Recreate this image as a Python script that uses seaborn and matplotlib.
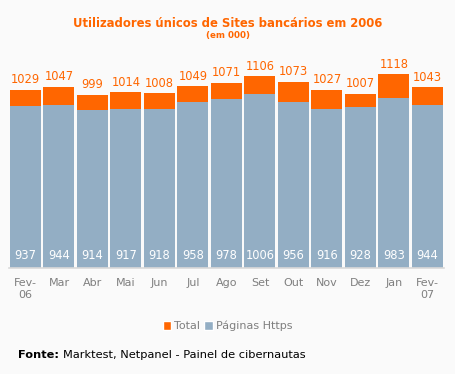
import numpy as np
import pandas as pd
import matplotlib
matplotlib.use("Agg")
import matplotlib.pyplot as plt
import seaborn as sns
from matplotlib.patches import Patch

# Values (em 000)
months = ["Fev-\n06", "Mar", "Abr", "Mai", "Jun", "Jul", "Ago", "Set", "Out", "Nov", "Dez", "Jan", "Fev-\n07"]
total = [1029, 1047, 999, 1014, 1008, 1049, 1071, 1106, 1073, 1027, 1007, 1118, 1043]
https = [937, 944, 914, 917, 918, 958, 978, 1006, 956, 916, 928, 983, 944]

ORANGE = "#FF6600"
BLUE = "#93AEC4"
GREY = "#7F7F7F"
BG = "#FAFAFA"

sns.set_style("white")
plt.rcParams["font.family"] = ["DejaVu Sans"]

df = pd.DataFrame({"mes": months, "total": total, "https": https})

fig = plt.figure(figsize=(4.55, 3.74), dpi=100, facecolor=BG)
ax = fig.add_axes([0.0192, 0.2834, 0.9571, 0.5695], facecolor=BG)

# Total drawn full height, Https overlaid from zero
sns.barplot(data=df, x="mes", y="total", color=ORANGE, saturation=1,
            width=0.925, ax=ax, linewidth=0)
sns.barplot(data=df, x="mes", y="https", color=BLUE, saturation=1,
            width=0.925, ax=ax, linewidth=0)

ax.set_ylim(0, 1230)
ax.set_xlim(-0.5, len(months) - 0.5)

for i, (t, h) in enumerate(zip(total, https)):
    ax.text(i, t + 22, str(t), ha="center", va="bottom", color=ORANGE, fontsize=8.3)
    ax.text(i, 35, str(h), ha="center", va="bottom", color="white", fontsize=8.3)

for s in ["top", "right", "left"]:
    ax.spines[s].set_visible(False)
ax.spines["bottom"].set_color("#D9D9D9")
ax.spines["bottom"].set_linewidth(1.2)
ax.set_yticks([])
ax.set_xlabel("")
ax.set_ylabel("")
ax.set_xticks(np.arange(-0.5, len(months)), minor=True)
ax.tick_params(axis="x", which="major", length=0, pad=7, labelsize=8, labelcolor=GREY)
ax.tick_params(axis="x", which="minor", length=4, width=1, color="#D9D9D9")
for lbl in ax.get_xticklabels():
    lbl.set_linespacing(1.25)

fig.text(0.5, 0.938, "Utilizadores únicos de Sites bancários em 2006", ha="center",
         va="center", color=ORANGE, fontsize=8.4, fontweight="bold")
fig.text(0.5, 0.905, "(em 000)", ha="center", va="center", color=ORANGE,
         fontsize=6.3, fontweight="bold")

handles = [Patch(facecolor=ORANGE, label="Total"), Patch(facecolor=BLUE, label="Páginas Https")]
leg = fig.legend(handles=handles, loc="center", bbox_to_anchor=(0.5, 0.128), ncol=2,
                 frameon=False, fontsize=8, handlelength=0.75, handleheight=0.75,
                 handletextpad=0.25, columnspacing=0.4)
for txt in leg.get_texts():
    txt.set_color(GREY)

fig.text(0.040, 0.050, "Fonte:", ha="left", va="center", color="black",
         fontsize=8.2, fontweight="bold")
fig.text(0.138, 0.050, "Marktest, Netpanel - Painel de cibernautas", ha="left",
         va="center", color="black", fontsize=8.2)

fig.savefig("out.png", dpi=100, facecolor=BG)
